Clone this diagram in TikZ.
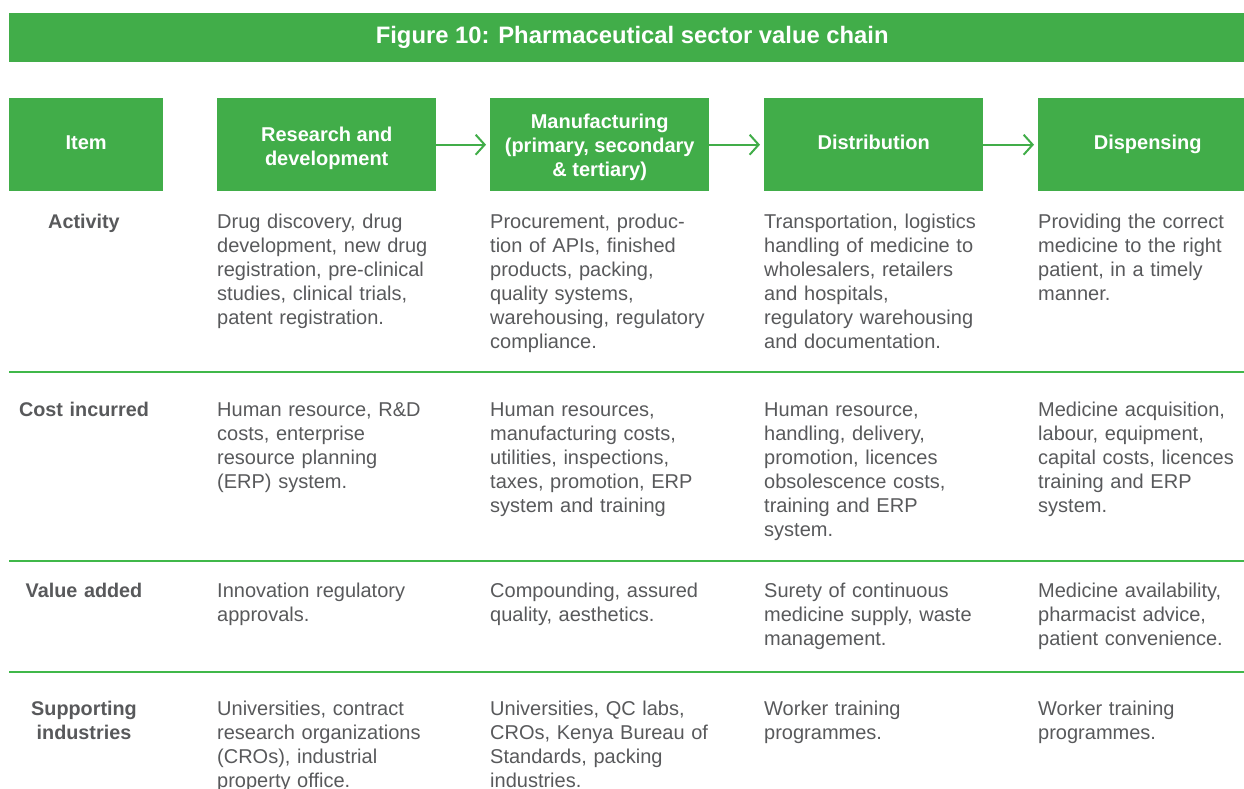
\documentclass[tikz,border=0pt]{standalone}
\usepackage{fontspec}
\setmainfont{Liberation Sans}
\usetikzlibrary{arrows.meta}
\definecolor{vcgreen}{RGB}{65,173,73}
\definecolor{vcrule}{RGB}{64,184,74}
\definecolor{vcgray}{RGB}{88,89,91}
\begin{document}
\begin{tikzpicture}[x=1pt, y=-1pt,
  hdbox/.style={fill=vcgreen, text=white, anchor=north west, inner sep=0,
    minimum height=93pt, text height=9pt, text depth=0pt, align=center,
    font=\fontsize{20}{24}\selectfont\bfseries},
  rowlbl/.style={anchor=base, inner sep=0, text width=150pt, align=center, text=vcgray,
    font=\fontsize{19.8}{24}\selectfont\bfseries},
  cell/.style={anchor=base west, inner sep=0, text width=240pt, align=left, text=vcgray,
    font=\fontsize{20}{24}\selectfont},
  flow/.style={vcgreen, line width=2pt, shorten >=4pt, -{Straight Barb[length=9pt,width=20pt]}},
  rowrule/.style={vcrule, line width=1.5pt}]
\path[use as bounding box, clip] (0,0) rectangle (1244,789);
% title bar
\node[fill=vcgreen, anchor=north west, inner sep=0, minimum width=1246pt, minimum height=49pt,
  text=white, font=\fontsize{23.8}{26}\selectfont\bfseries] (title) at (9,13) {Figure 10: Pharmaceutical sector value chain};
% header boxes
\node[hdbox, minimum width=154pt] (hd0) at (9,98) {Item};
\node[hdbox, minimum width=219pt, text height=42pt] (hd1) at (217,98) {Research and\\development};
\node[hdbox, minimum width=219pt, text height=64pt] (hd2) at (490,98) {Manufacturing\\(primary, secondary\\\& tertiary)};
\node[hdbox, minimum width=219pt] (hd3) at (764,98) {Distribution};
\node[hdbox, minimum width=219pt] (hd4) at (1038,98) {Dispensing};
\draw[flow] (hd1) -- (hd2);
\draw[flow] (hd2) -- (hd3);
\draw[flow] (hd3) -- (hd4);
% row rules
\coordinate (r1a) at (9,372);
\coordinate (r1b) at (1244,372);
\coordinate (r2a) at (9,561);
\coordinate (r2b) at (1244,561);
\coordinate (r3a) at (9,672);
\coordinate (r3b) at (1244,672);
\draw[rowrule] (r1a) -- (r1b);
\draw[rowrule] (r2a) -- (r2b);
\draw[rowrule] (r3a) -- (r3b);
% activity
\node[rowlbl] (lbl1) at (84,228) {Activity};
\node[cell] (c11) at (217,228) {Drug discovery, drug\\development, new drug\\registration, pre-clinical\\studies, clinical trials,\\patent registration.};
\node[cell] (c12) at (490,228) {Procurement, produc-\\tion of APIs, finished\\products, packing,\\quality systems,\\warehousing, regulatory\\compliance.};
\node[cell] (c13) at (764,228) {Transportation, logistics\\handling of medicine to\\wholesalers, retailers\\and hospitals,\\regulatory warehousing\\and documentation.};
\node[cell] (c14) at (1038,228) {Providing the correct\\medicine to the right\\patient, in a timely\\manner.};
% cost incurred
\node[rowlbl] (lbl2) at (84,416) {Cost incurred};
\node[cell] (c21) at (217,416) {Human resource, R\&D\\costs, enterprise\\resource planning\\(ERP) system.};
\node[cell] (c22) at (490,416) {Human resources,\\manufacturing costs,\\utilities, inspections,\\taxes, promotion, ERP\\system and training};
\node[cell] (c23) at (764,416) {Human resource,\\handling, delivery,\\promotion, licences\\obsolescence costs,\\training and ERP\\system.};
\node[cell] (c24) at (1038,416) {Medicine acquisition,\\labour, equipment,\\capital costs, licences\\training and ERP\\system.};
% value added
\node[rowlbl] (lbl3) at (84,597) {Value added};
\node[cell] (c31) at (217,597) {Innovation regulatory\\approvals.};
\node[cell] (c32) at (490,597) {Compounding, assured\\quality, aesthetics.};
\node[cell] (c33) at (764,597) {Surety of continuous\\medicine supply, waste\\management.};
\node[cell] (c34) at (1038,597) {Medicine availability,\\pharmacist advice,\\patient convenience.};
% supporting industries
\node[rowlbl] (lbl4) at (84,715) {Supporting\\industries};
\node[cell] (c41) at (217,715) {Universities, contract\\research organizations\\(CROs), industrial\\property office.};
\node[cell] (c42) at (490,715) {Universities, QC labs,\\CROs, Kenya Bureau of\\Standards, packing\\industries.};
\node[cell] (c43) at (764,715) {Worker training\\programmes.};
\node[cell] (c44) at (1038,715) {Worker training\\programmes.};
\end{tikzpicture}
\end{document}
